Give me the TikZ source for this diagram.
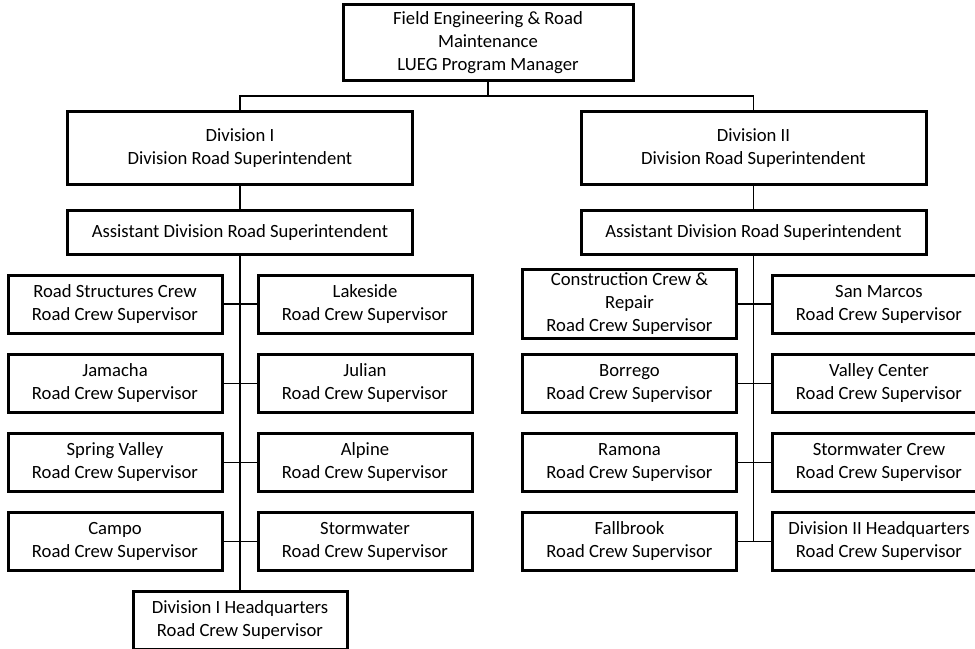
\documentclass[tikz,border=0pt]{standalone}
\usepackage{fontspec}
\setmainfont{Carlito}
\begin{document}
\begin{tikzpicture}[x=0.75pt,y=-0.75pt,
    box/.style={draw,line width=2.25pt,align=center,inner sep=0pt,font=\fontsize{14}{17.25}\selectfont},
    head/.style={box,minimum width=258.75pt,minimum height=54.75pt},
    asst/.style={box,minimum width=258.75pt,minimum height=33pt},
    crew/.style={box,minimum width=160.5pt,minimum height=43.5pt},
    link/.style={line width=1.2pt}]
    \useasboundingbox (0,0) rectangle (975,649);
    \node[box,minimum width=217.5pt,minimum height=57pt] (lueg) at (488,43) {Field Engineering \& Road\\Maintenance\\LUEG Program Manager};
    \node[head] (div1) at (240,148.5) {Division I\\Division Road Superintendent};
    \node[head] (div2) at (753.5,148.5) {Division II\\Division Road Superintendent};
    \node[asst] (asst1) at (240,233) {Assistant Division Road Superintendent};
    \node[asst] (asst2) at (753.5,233) {Assistant Division Road Superintendent};
    % division I crews
    \foreach \nm/\yy/\txt in {rsc/304/Road Structures Crew,jam/383.5/Jamacha,spv/462.5/Spring Valley,cam/541.5/Campo}
    \node[crew] (\nm) at (115,\yy) {\txt\\Road Crew Supervisor};
    \foreach \nm/\yy/\txt in {lak/304/Lakeside,jul/383.5/Julian,alp/462.5/Alpine,stw/541.5/Stormwater}
    \node[crew] (\nm) at (365,\yy) {\txt\\Road Crew Supervisor};
    \node[crew] (hq1) at (240,620) {Division I Headquarters\\Road Crew Supervisor};
    % division II crews
    \node[crew,minimum height=51.75pt] (ccr) at (629.5,304) {Construction Crew \&\\Repair\\Road Crew Supervisor};
    \foreach \nm/\yy/\txt in {bor/383.5/Borrego,ram/462.5/Ramona,fal/541.5/Fallbrook}
    \node[crew] (\nm) at (629.5,\yy) {\txt\\Road Crew Supervisor};
    \foreach \nm/\yy/\txt in {smc/304/San Marcos,vlc/383.5/Valley Center,swc/462.5/Stormwater Crew,hq2/541.5/Division II Headquarters}
    \node[crew] (\nm) at (879,\yy) {\txt\\Road Crew Supervisor};
    % connectors
    \coordinate (bus) at (488,96);
    \draw[link] (lueg.south) -- (bus);
    \draw[link] (div1.north) |- (bus) -| (div2.north);
    \draw[link] (div1.south) -- (asst1.north);
    \draw[link] (div2.south) -- (asst2.north);
    \draw[link] (asst1.south) -- (hq1.north);
    \foreach \a/\b in {rsc/lak,jam/jul,spv/alp,cam/stw}
    \draw[link] (\a.east) -- (\b.west);
    \draw[link] (asst2.south) -- (asst2.south |- fal.east);
    \foreach \a/\b in {ccr/smc,bor/vlc,ram/swc,fal/hq2}
    \draw[link] (\a.east) -- (\b.west);
\end{tikzpicture}
\end{document}
